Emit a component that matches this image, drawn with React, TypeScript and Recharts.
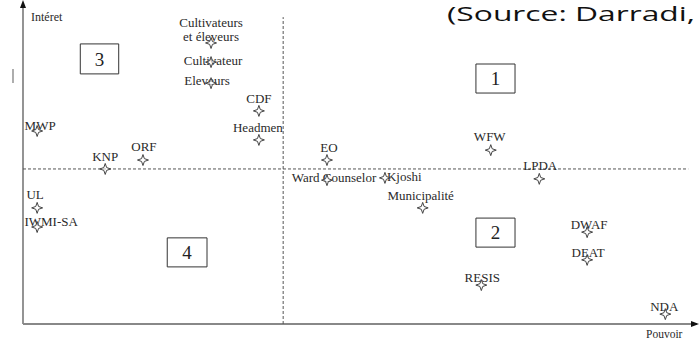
import React from "react";
import {
  ScatterChart,
  Scatter,
  XAxis,
  YAxis,
  ReferenceLine,
  ReferenceArea,
} from "recharts";

// stakeholders, power (x) and interest (y) on a 0-100 scale
const acteurs = [
  "Cultivateurs et éleveurs",
  "Cultivateur",
  "Eleveurs",
  "CDF",
  "Headmen",
  "MWP",
  "KNP",
  "ORF",
  "EO",
  "Ward Counselor",
  "Kjoshi",
  "Municipalité",
  "WFW",
  "LPDA",
  "DWAF",
  "DEAT",
  "RESIS",
  "NDA",
  "UL",
  "IWMI-SA",
];
const pouvoir = [
  27.9, 27.9, 27.9, 35.0, 35.0, 2.1, 12.2, 17.8, 45.1, 45.1, 53.7, 59.3, 69.4,
  76.6, 83.7, 83.7, 68.0, 95.3, 2.1, 2.1,
];
const interet = [
  88.1, 82.1, 75.5, 66.8, 57.7, 60.5, 48.6, 51.4, 51.4, 45.1, 45.8, 36.4, 54.5,
  45.5, 28.8, 20.1, 12.2, 3.1, 36.4, 30.4,
];
const quadrants = ["1", "2", "3", "4"];
const seuilPouvoir = 38.6;
const seuilInteret = 48.6;

const data = acteurs.map((nom, i) => ({
  nom,
  pouvoir: pouvoir[i],
  interet: interet[i],
}));

// where each label sits relative to its star (px)
const labelPos: Record<string, { dx: number; dy: number; anchor?: string }> = {
  Cultivateur: { dx: 2, dy: -1 },
  Eleveurs: { dx: -4, dy: -2 },
  CDF: { dx: 0, dy: -12 },
  Headmen: { dx: -1, dy: -12 },
  MWP: { dx: 3, dy: -5 },
  KNP: { dx: 0, dy: -12 },
  ORF: { dx: 1, dy: -13 },
  EO: { dx: 2, dy: -12 },
  "Ward Counselor": { dx: 7, dy: -2 },
  Kjoshi: { dx: 2, dy: -1, anchor: "start" },
  Municipalité: { dx: -2, dy: -12 },
  WFW: { dx: -1, dy: -13 },
  LPDA: { dx: 1, dy: -13 },
  DWAF: { dx: 2, dy: -7 },
  DEAT: { dx: 1, dy: -7 },
  RESIS: { dx: 1, dy: -7 },
  NDA: { dx: -1, dy: -7 },
  UL: { dx: -2, dy: -13 },
  "IWMI-SA": { dx: 14, dy: -5 },
};

const serif = "'Liberation Serif', 'DejaVu Serif', serif";
const txt = "#2a2a2a";

const Star = (props: any) => {
  const { cx, cy, payload } = props;
  const star =
    "M0,-5.5 L1.4,-1.4 L5.5,0 L1.4,1.4 L0,5.5 L-1.4,1.4 L-5.5,0 L-1.4,-1.4 Z";
  let label;
  if (payload.nom === "Cultivateurs et éleveurs") {
    label = (
      <text textAnchor="middle" fontFamily={serif} fontSize={13} fill={txt}>
        <tspan x={cx} y={cy - 16}>Cultivateurs</tspan>
        <tspan x={cx} y={cy - 2}>et éleveurs</tspan>
      </text>
    );
  } else {
    const p = labelPos[payload.nom] || { dx: 0, dy: -12 };
    label = (
      <text
        x={cx + p.dx}
        y={cy + p.dy + 4}
        textAnchor={p.anchor || "middle"}
        fontFamily={serif}
        fontSize={13}
        fill={txt}
      >
        {payload.nom}
      </text>
    );
  }
  return (
    <g>
      {label}
      <path
        d={star}
        transform={`translate(${cx},${cy})`}
        fill="#fff"
        fillOpacity={0.6}
        stroke="#444"
        strokeWidth={1}
      />
    </g>
  );
};

const boxes = [
  { n: quadrants[0], x1: 67.2, x2: 73.0, y1: 72.4, y2: 81.5 },
  { n: quadrants[1], x1: 67.2, x2: 73.0, y1: 24.1, y2: 33.2 },
  { n: quadrants[2], x1: 8.5, x2: 14.2, y1: 78.4, y2: 87.8 },
  { n: quadrants[3], x1: 21.4, x2: 27.3, y1: 17.9, y2: 27.0 },
];

const App = () => {
  return (
    <div
      style={{
        position: "absolute",
        left: 0,
        top: 0,
        width: 699,
        height: 342,
        background: "#fff",
      }}
    >
      <ScatterChart
        width={699}
        height={342}
        margin={{ top: 5, right: 2, left: 23, bottom: 18 }}
      >
        <XAxis
          type="number"
          dataKey="pouvoir"
          domain={[0, 100]}
          hide
        />
        <YAxis
          type="number"
          dataKey="interet"
          domain={[0, 100]}
          hide
        />
        {/* axes */}
        <ReferenceLine y={0} stroke="#888" strokeWidth={1.8} />
        <ReferenceLine x={0} stroke="#888" strokeWidth={1.8} />
        <ReferenceLine
          segment={[
            { x: seuilPouvoir, y: 0 },
            { x: seuilPouvoir, y: 96.2 },
          ]}
          stroke="#555"
          strokeDasharray="3 2"
        />
        <ReferenceLine
          segment={[
            { x: 0, y: seuilInteret },
            { x: 98.7, y: seuilInteret },
          ]}
          stroke="#555"
          strokeDasharray="3 2"
        />
        {boxes.map((b) => (
          <ReferenceArea
            key={b.n}
            x1={b.x1}
            x2={b.x2}
            y1={b.y1}
            y2={b.y2}
            fill="#fff"
            fillOpacity={1}
            stroke="#333"
            strokeWidth={1}
            label={{
              value: b.n,
              position: "center",
              fontFamily: serif,
              fontSize: 19,
              fill: "#222",
            }}
          />
        ))}
        <Scatter
          data={data}
          shape={Star}
          isAnimationActive={false}
        />
      </ScatterChart>
      <svg
        width={699}
        height={342}
        style={{ position: "absolute", left: 0, top: 0, pointerEvents: "none" }}
      >
        <polygon points="23,0 20,8 26,8" fill="#111" />
        <polygon points="699,324 691,321 691,327" fill="#111" />
        <line x1={13} y1={69} x2={13} y2={83} stroke="#777" strokeWidth={1.2} />
        <text x={31} y={21} fontFamily={serif} fontSize={12} fill={txt}>
          Intéret
        </text>
        <text x={646} y={338} fontFamily={serif} fontSize={11.5} fill={txt}>
          Pouvoir
        </text>
        <text
          x={447}
          y={21}
          fontFamily="'Open Sans', 'Noto Sans', sans-serif"
          fontSize={20}
          fill="#111"
          textLength={248}
          lengthAdjust="spacingAndGlyphs"
        >
          (Source: Darradi,
        </text>
      </svg>
    </div>
  );
};

export default App;
